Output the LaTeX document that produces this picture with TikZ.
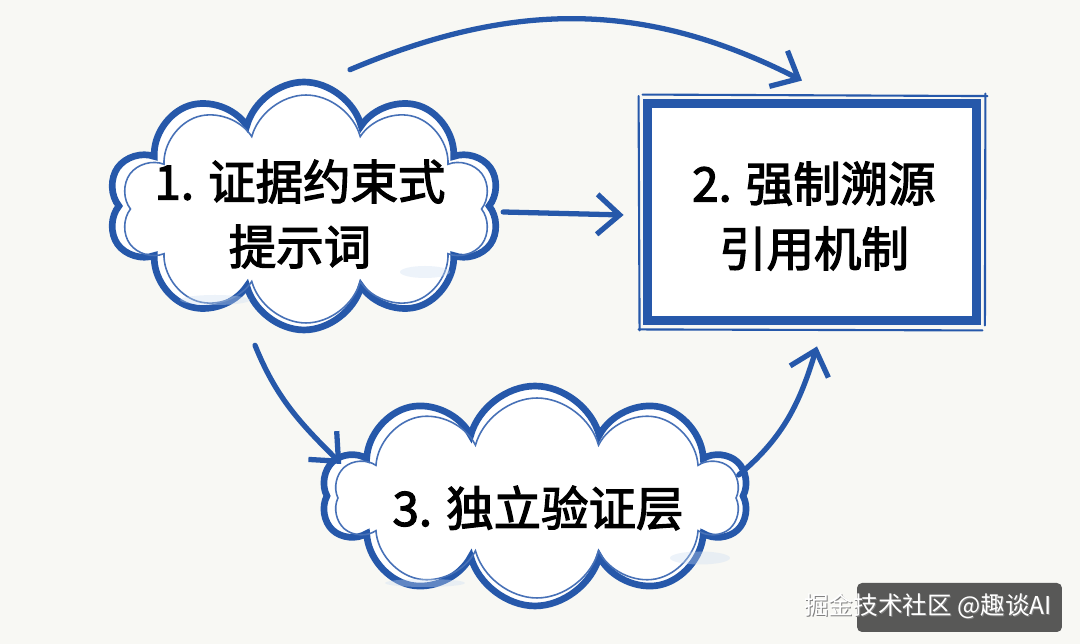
\documentclass[tikz,border=0pt]{standalone}
\usepackage{fontspec}
\newfontfamily\cjk[FakeBold=2.6]{Noto Sans CJK SC}
\newfontfamily\cjkw{Noto Sans CJK SC}
\usetikzlibrary{shapes.symbols,arrows.meta,calc}
\definecolor{ink}{RGB}{38,88,170}
\definecolor{paper}{RGB}{248,248,244}
\definecolor{wash}{RGB}{205,222,242}
\begin{document}
\begin{tikzpicture}[x=0.02cm,y=-0.02cm,
  cloudbox/.style={cloud, cloud puffs=10, cloud puff arc=150, cloud ignores aspect, draw=ink, line width=3.8pt, fill=white, inner sep=0pt},
  cloudinner/.style={cloud, cloud puffs=10, cloud puff arc=150, cloud ignores aspect, draw=ink!85, line width=0.9pt, inner sep=0pt},
  lbl/.style={font=\cjk\fontsize{27}{37}\selectfont, align=center, text=black},
  arr/.style={draw=ink, line width=3pt, line cap=round, -{Straight Barb[length=0.45cm,width=0.8cm,line width=3pt]}},
  sketch/.style={draw=ink, line width=1.2pt, line cap=round},
]
\fill[paper] (0,0) rectangle (1080,644);
\useasboundingbox (0,0) rectangle (1080,644);

% cloud 1
\node[cloudbox, minimum width=7.84cm, minimum height=4.96cm] (c1) at (304,206) {};
\node[cloudinner, minimum width=7.4cm, minimum height=4.56cm] (c1i) at (306,209) {};
\fill[wash, opacity=0.35] (215,300) ellipse [x radius=0.7cm, y radius=0.1cm];
\fill[wash, opacity=0.35] (425,272) ellipse [x radius=0.5cm, y radius=0.12cm];
\node[lbl] (t1) at (300,214) {1. 证据约束式\\提示词};

% box 2
\node[draw=ink, line width=4.5pt, minimum width=6.62cm, minimum height=4.38cm, fill=white] (box) at (812,212) {};
\draw[sketch] ([shift={(0.17cm,-0.17cm)}]box.north west) rectangle ([shift={(-0.17cm,0.17cm)}]box.south east);
\draw[sketch] ([shift={(0.0cm,0.08cm)}]box.north west) -- ([shift={(0.12cm,0.05cm)}]box.north east);
\draw[sketch] ([shift={(-0.08cm,-0.08cm)}]box.south west) -- ([shift={(0.02cm,-0.1cm)}]box.south east);
\draw[sketch] ([shift={(-0.08cm,0.05cm)}]box.north west) -- ([shift={(-0.06cm,-0.1cm)}]box.south west);
\draw[sketch] ([shift={(0.08cm,0.1cm)}]box.north east) -- ([shift={(0.07cm,0.0cm)}]box.south east);
\node[lbl] (t2) at (814,216) {2. 强制溯源\\引用机制};

% cloud 3
\node[cloudbox, minimum width=8.52cm, minimum height=4.4cm] (c3) at (535,496) {};
\node[cloudinner, minimum width=8.1cm, minimum height=4.0cm] (c3i) at (537,498) {};
\fill[wash, opacity=0.35] (700,558) ellipse [x radius=0.6cm, y radius=0.13cm];
\fill[wash, opacity=0.35] (425,583) ellipse [x radius=0.8cm, y radius=0.08cm];
\node[lbl] (t3) at (538,508) {3. 独立验证层};

% connectors
\draw[arr] ([xshift=0.92cm,yshift=0.18cm]c1.north) to[out=23,in=153] ([xshift=-0.2cm,yshift=0.36cm]box.north);
\draw[arr] ([xshift=0.2cm,yshift=-0.12cm]c1.east) -- ([xshift=-0.38cm,yshift=-0.06cm]box.west);
\draw[arr] ([xshift=-0.98cm,yshift=-0.24cm]c1.south) to[out=-68,in=135] ([xshift=0.36cm,yshift=0.64cm]c3.west);
\draw[arr] ([xshift=-0.16cm,yshift=0.42cm]c3.east) to[out=40,in=-107] ([xshift=0.1cm,yshift=-0.42cm]box.south);

% watermark
\node[fill=black!72, fill opacity=0.9, rounded corners=0.1cm, minimum width=4.1cm, minimum height=0.98cm, inner sep=0pt] (wm) at (959.5,607.5) {};
\node[anchor=west, font=\cjkw\fontsize{14}{14}\selectfont, text=black!50] (wts) at (799,607) {掘金技术社区 @趣谈AI};
\node[anchor=west, font=\cjkw\fontsize{14}{14}\selectfont, text=white] (wt) at (798,606) {掘金技术社区 @趣谈AI};
\end{tikzpicture}
\end{document}
